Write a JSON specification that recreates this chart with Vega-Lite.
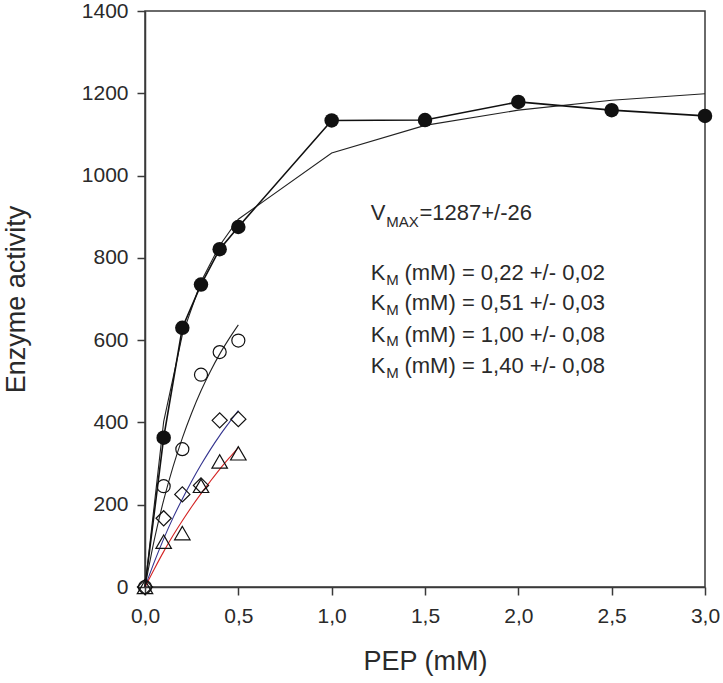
{
  "$schema": "https://vega.github.io/schema/vega-lite/v6.json",
  "width": 560,
  "height": 576,
  "autosize": {"type": "none"},
  "padding": {"left": 145, "top": 11, "right": 18, "bottom": 96},
  "background": "white",
  "config": {
    "view": {"stroke": "#3a3a3a", "strokeWidth": 1.5},
    "font": "Liberation Sans",
    "axis": {
      "domainColor": "#3a3a3a", "domainWidth": 1.5,
      "tickColor": "#3a3a3a", "tickWidth": 1.5, "tickSize": 8,
      "labelFont": "Liberation Sans", "labelFontSize": 21, "labelColor": "#2a2a2a",
      "titleFont": "Liberation Sans", "titleFontSize": 27, "titleFontWeight": "normal", "titleColor": "#2a2a2a",
      "grid": false
    }
  },
  "datasets": {
    "obs": [
      {"s": "F", "x": 0, "y": 0},
      {"s": "F", "x": 0.1, "y": 363},
      {"s": "F", "x": 0.2, "y": 630},
      {"s": "F", "x": 0.3, "y": 735},
      {"s": "F", "x": 0.4, "y": 821},
      {"s": "F", "x": 0.5, "y": 875},
      {"s": "F", "x": 1.0, "y": 1134},
      {"s": "F", "x": 1.5, "y": 1135},
      {"s": "F", "x": 2.0, "y": 1179},
      {"s": "F", "x": 2.5, "y": 1159},
      {"s": "F", "x": 3.0, "y": 1145},
      {"s": "O", "x": 0, "y": 0},
      {"s": "O", "x": 0.1, "y": 245},
      {"s": "O", "x": 0.2, "y": 335},
      {"s": "O", "x": 0.3, "y": 516},
      {"s": "O", "x": 0.4, "y": 571},
      {"s": "O", "x": 0.5, "y": 599},
      {"s": "D", "x": 0, "y": 0},
      {"s": "D", "x": 0.1, "y": 167},
      {"s": "D", "x": 0.2, "y": 225},
      {"s": "D", "x": 0.3, "y": 247},
      {"s": "D", "x": 0.4, "y": 405},
      {"s": "D", "x": 0.5, "y": 408},
      {"s": "T", "x": 0, "y": 0},
      {"s": "T", "x": 0.1, "y": 110},
      {"s": "T", "x": 0.2, "y": 131},
      {"s": "T", "x": 0.3, "y": 246},
      {"s": "T", "x": 0.4, "y": 305},
      {"s": "T", "x": 0.5, "y": 325}
    ],
    "fitF": [
      {"x": 0, "y": 0},
      {"x": 0.1, "y": 402},
      {"x": 0.2, "y": 613},
      {"x": 0.3, "y": 742},
      {"x": 0.4, "y": 830},
      {"x": 0.5, "y": 894},
      {"x": 1.0, "y": 1055},
      {"x": 1.5, "y": 1122},
      {"x": 2.0, "y": 1159},
      {"x": 2.5, "y": 1183},
      {"x": 3.0, "y": 1199}
    ],
    "fits": [
      {"s": "O", "x": 0, "y": 0},
      {"s": "O", "x": 0.05, "y": 115},
      {"s": "O", "x": 0.1, "y": 211},
      {"s": "O", "x": 0.15, "y": 292},
      {"s": "O", "x": 0.2, "y": 362},
      {"s": "O", "x": 0.25, "y": 423},
      {"s": "O", "x": 0.3, "y": 477},
      {"s": "O", "x": 0.35, "y": 524},
      {"s": "O", "x": 0.4, "y": 566},
      {"s": "O", "x": 0.45, "y": 603},
      {"s": "O", "x": 0.5, "y": 637},
      {"s": "D", "x": 0, "y": 0},
      {"s": "D", "x": 0.05, "y": 61},
      {"s": "D", "x": 0.1, "y": 117},
      {"s": "D", "x": 0.15, "y": 168},
      {"s": "D", "x": 0.2, "y": 214},
      {"s": "D", "x": 0.25, "y": 257},
      {"s": "D", "x": 0.3, "y": 297},
      {"s": "D", "x": 0.35, "y": 334},
      {"s": "D", "x": 0.4, "y": 368},
      {"s": "D", "x": 0.45, "y": 399},
      {"s": "D", "x": 0.5, "y": 429},
      {"s": "T", "x": 0, "y": 0},
      {"s": "T", "x": 0.05, "y": 44},
      {"s": "T", "x": 0.1, "y": 86},
      {"s": "T", "x": 0.15, "y": 125},
      {"s": "T", "x": 0.2, "y": 161},
      {"s": "T", "x": 0.25, "y": 195},
      {"s": "T", "x": 0.3, "y": 227},
      {"s": "T", "x": 0.35, "y": 257},
      {"s": "T", "x": 0.4, "y": 286},
      {"s": "T", "x": 0.45, "y": 313},
      {"s": "T", "x": 0.5, "y": 339}
    ],
    "annMain": [
      {"x": 1.209, "y": 893, "t": "V"},
      {"x": 1.47, "y": 893, "t": "=1287+/-26"},
      {"x": 1.209, "y": 746, "t": "K"},
      {"x": 1.39, "y": 746, "t": "(mM) = 0,22 +/- 0,02"},
      {"x": 1.209, "y": 673, "t": "K"},
      {"x": 1.39, "y": 673, "t": "(mM) = 0,51 +/- 0,03"},
      {"x": 1.209, "y": 596, "t": "K"},
      {"x": 1.39, "y": 596, "t": "(mM) = 1,00 +/- 0,08"},
      {"x": 1.209, "y": 519, "t": "K"},
      {"x": 1.39, "y": 519, "t": "(mM) = 1,40 +/- 0,08"}
    ],
    "annSub": [
      {"x": 1.292, "y": 874, "t": "MAX"},
      {"x": 1.292, "y": 735, "t": "M"},
      {"x": 1.292, "y": 662, "t": "M"},
      {"x": 1.292, "y": 585, "t": "M"},
      {"x": 1.292, "y": 508, "t": "M"}
    ]
  },
  "encoding": {
    "x": {
      "field": "x", "type": "quantitative",
      "scale": {"domain": [0, 3], "nice": false, "zero": false},
      "axis": {
        "title": "PEP (mM)",
        "values": [0, 0.5, 1, 1.5, 2, 2.5, 3],
        "labelExpr": "replace(format(datum.value, '.1f'), '.', ',')",
        "labelPadding": 10,
        "titlePadding": 22,
        "labelFlush": false
      }
    },
    "y": {
      "field": "y", "type": "quantitative",
      "scale": {"domain": [0, 1400], "nice": false},
      "axis": {
        "title": "Enzyme activity",
        "values": [0, 200, 400, 600, 800, 1000, 1200, 1400],
        "format": "d",
        "labelPadding": 9,
        "titlePadding": 51,
        "labelFlush": false
      }
    }
  },
  "layer": [
    {
      "data": {"name": "fitF"},
      "mark": {"type": "line", "color": "#222222", "strokeWidth": 1.1, "clip": true}
    },
    {
      "data": {"name": "fits"},
      "mark": {"type": "line", "strokeWidth": 1.1, "interpolate": "monotone"},
      "encoding": {
        "color": {
          "field": "s", "type": "nominal",
          "scale": {"domain": ["O", "D", "T"], "range": ["#222222", "#34348f", "#d42424"]},
          "legend": null
        }
      }
    },
    {
      "data": {"name": "obs"},
      "transform": [{"filter": "datum.s === 'F'"}],
      "mark": {"type": "line", "color": "#111111", "strokeWidth": 1.6}
    },
    {
      "data": {"name": "obs"},
      "transform": [{"filter": "datum.s === 'F' && datum.x > 0"}],
      "mark": {"type": "point", "shape": "circle", "filled": true, "color": "#111111", "size": 210, "opacity": 1}
    },
    {
      "data": {"name": "obs"},
      "transform": [{"filter": "datum.s === 'O'"}],
      "mark": {"type": "point", "shape": "circle", "filled": false, "color": "#111111", "strokeWidth": 1.2, "size": 170, "opacity": 1}
    },
    {
      "data": {"name": "obs"},
      "transform": [{"filter": "datum.s === 'D'"}],
      "mark": {"type": "point", "shape": "diamond", "filled": false, "color": "#111111", "strokeWidth": 1.2, "size": 230, "opacity": 1}
    },
    {
      "data": {"name": "obs"},
      "transform": [{"filter": "datum.s === 'T'"}],
      "mark": {"type": "point", "shape": "triangle-up", "filled": false, "color": "#111111", "strokeWidth": 1.2, "size": 240, "opacity": 1}
    },
    {
      "data": {"name": "annMain"},
      "mark": {"type": "text", "align": "left", "baseline": "alphabetic", "fontSize": 22, "color": "#2a2a2a", "font": "Liberation Sans"},
      "encoding": {"text": {"field": "t"}}
    },
    {
      "data": {"name": "annSub"},
      "mark": {"type": "text", "align": "left", "baseline": "alphabetic", "fontSize": 15, "color": "#2a2a2a", "font": "Liberation Sans"},
      "encoding": {"text": {"field": "t"}}
    }
  ]
}
